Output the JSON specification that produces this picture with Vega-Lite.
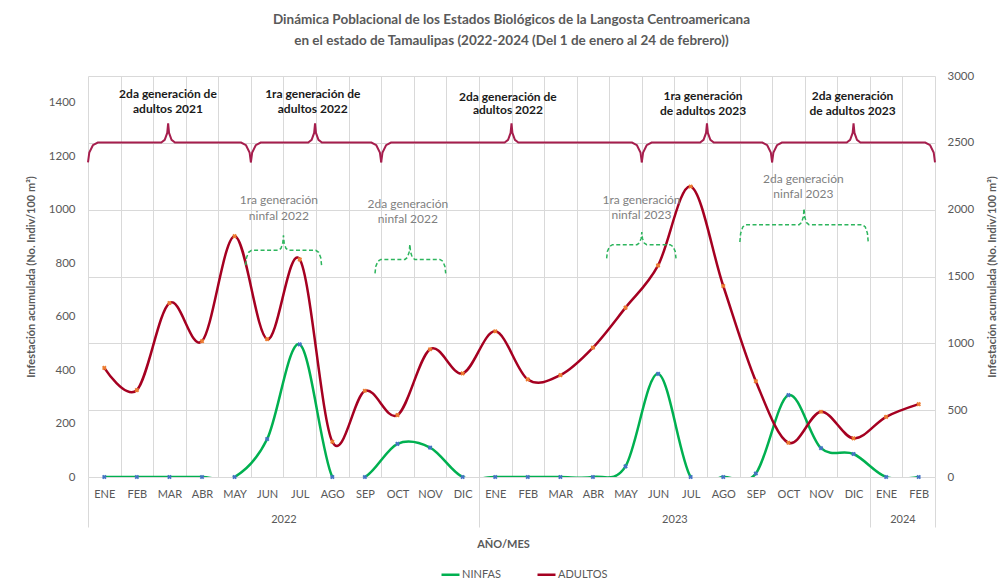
{
  "$schema": "https://vega.github.io/schema/vega-lite/v6.json",
  "width": 847,
  "height": 401,
  "autosize": {"type": "none"},
  "padding": {"left": 88, "top": 76, "right": 69, "bottom": 107},
  "background": "white",
  "title": {
    "text": ["Dinámica Poblacional de los Estados Biológicos de la Langosta Centroamericana", "en el estado de Tamaulipas (2022-2024 (Del 1 de enero al 24 de febrero))"],
    "anchor": "middle", "frame": "group", "offset": 23, "fontSize": 13.5, "font": "Lato", "fontWeight": "bold", "color": "#595959", "lineHeight": 21
  },
  "config": {"view": {"stroke": null}, "font": "Lato", "axis": {"labelFont": "Lato", "titleFont": "Lato"}, "legend": {"labelFont": "Lato"}},
  "datasets": {
    "main": [
      {"i": 0, "ninfas": 0, "adultos": 816},
      {"i": 1, "ninfas": 0, "adultos": 650},
      {"i": 2, "ninfas": 0, "adultos": 1302},
      {"i": 3, "ninfas": 0, "adultos": 1016},
      {"i": 4, "ninfas": 0, "adultos": 1802},
      {"i": 5, "ninfas": 142, "adultos": 1031},
      {"i": 6, "ninfas": 496, "adultos": 1628},
      {"i": 7, "ninfas": 0, "adultos": 264},
      {"i": 8, "ninfas": 0, "adultos": 645},
      {"i": 9, "ninfas": 124, "adultos": 463},
      {"i": 10, "ninfas": 110, "adultos": 956},
      {"i": 11, "ninfas": 0, "adultos": 775},
      {"i": 12, "ninfas": 0, "adultos": 1090},
      {"i": 13, "ninfas": 0, "adultos": 730},
      {"i": 14, "ninfas": 0, "adultos": 762},
      {"i": 15, "ninfas": 0, "adultos": 968},
      {"i": 16, "ninfas": 40, "adultos": 1267},
      {"i": 17, "ninfas": 386, "adultos": 1583},
      {"i": 18, "ninfas": 0, "adultos": 2173},
      {"i": 19, "ninfas": 0, "adultos": 1429},
      {"i": 20, "ninfas": 13, "adultos": 717},
      {"i": 21, "ninfas": 306, "adultos": 256},
      {"i": 22, "ninfas": 108, "adultos": 488},
      {"i": 23, "ninfas": 86, "adultos": 289},
      {"i": 24, "ninfas": 0, "adultos": 450},
      {"i": 25, "ninfas": 0, "adultos": 545}
    ],
    "bracesA": [
      {"b": "r1", "x": -0.5, "y": 1177}, {"b": "r1", "x": -0.46, "y": 1214}, {"b": "r1", "x": -0.35, "y": 1241}, {"b": "r1", "x": -0.2, "y": 1251},
      {"b": "r1", "x": 1.75, "y": 1251}, {"b": "r1", "x": 1.855, "y": 1261}, {"b": "r1", "x": 1.932, "y": 1287}, {"b": "r1", "x": 1.96, "y": 1323},
      {"b": "r1", "x": 1.988, "y": 1287}, {"b": "r1", "x": 2.065, "y": 1261}, {"b": "r1", "x": 2.17, "y": 1251}, {"b": "r1", "x": 4.2, "y": 1251},
      {"b": "r1", "x": 4.35, "y": 1241}, {"b": "r1", "x": 4.46, "y": 1214}, {"b": "r1", "x": 4.5, "y": 1177},
      {"b": "r2", "x": 4.5, "y": 1177}, {"b": "r2", "x": 4.54, "y": 1214}, {"b": "r2", "x": 4.65, "y": 1241}, {"b": "r2", "x": 4.8, "y": 1251},
      {"b": "r2", "x": 6.26, "y": 1251}, {"b": "r2", "x": 6.365, "y": 1261}, {"b": "r2", "x": 6.442, "y": 1287}, {"b": "r2", "x": 6.47, "y": 1323},
      {"b": "r2", "x": 6.498, "y": 1287}, {"b": "r2", "x": 6.575, "y": 1261}, {"b": "r2", "x": 6.68, "y": 1251}, {"b": "r2", "x": 8.2, "y": 1251},
      {"b": "r2", "x": 8.35, "y": 1241}, {"b": "r2", "x": 8.46, "y": 1214}, {"b": "r2", "x": 8.5, "y": 1177},
      {"b": "r3", "x": 8.5, "y": 1177}, {"b": "r3", "x": 8.54, "y": 1214}, {"b": "r3", "x": 8.65, "y": 1241}, {"b": "r3", "x": 8.8, "y": 1251},
      {"b": "r3", "x": 12.29, "y": 1251}, {"b": "r3", "x": 12.395, "y": 1261}, {"b": "r3", "x": 12.472, "y": 1287}, {"b": "r3", "x": 12.5, "y": 1323},
      {"b": "r3", "x": 12.528, "y": 1287}, {"b": "r3", "x": 12.605, "y": 1261}, {"b": "r3", "x": 12.71, "y": 1251}, {"b": "r3", "x": 16.2, "y": 1251},
      {"b": "r3", "x": 16.35, "y": 1241}, {"b": "r3", "x": 16.46, "y": 1214}, {"b": "r3", "x": 16.5, "y": 1177},
      {"b": "r4", "x": 16.5, "y": 1177}, {"b": "r4", "x": 16.54, "y": 1214}, {"b": "r4", "x": 16.65, "y": 1241}, {"b": "r4", "x": 16.8, "y": 1251},
      {"b": "r4", "x": 18.29, "y": 1251}, {"b": "r4", "x": 18.395, "y": 1261}, {"b": "r4", "x": 18.472, "y": 1287}, {"b": "r4", "x": 18.5, "y": 1323},
      {"b": "r4", "x": 18.528, "y": 1287}, {"b": "r4", "x": 18.605, "y": 1261}, {"b": "r4", "x": 18.71, "y": 1251}, {"b": "r4", "x": 20.2, "y": 1251},
      {"b": "r4", "x": 20.35, "y": 1241}, {"b": "r4", "x": 20.46, "y": 1214}, {"b": "r4", "x": 20.5, "y": 1177},
      {"b": "r5", "x": 20.5, "y": 1177}, {"b": "r5", "x": 20.54, "y": 1214}, {"b": "r5", "x": 20.65, "y": 1241}, {"b": "r5", "x": 20.8, "y": 1251},
      {"b": "r5", "x": 22.79, "y": 1251}, {"b": "r5", "x": 22.895, "y": 1261}, {"b": "r5", "x": 22.972, "y": 1287}, {"b": "r5", "x": 23.0, "y": 1323},
      {"b": "r5", "x": 23.028, "y": 1287}, {"b": "r5", "x": 23.105, "y": 1261}, {"b": "r5", "x": 23.21, "y": 1251}, {"b": "r5", "x": 25.2, "y": 1251},
      {"b": "r5", "x": 25.35, "y": 1241}, {"b": "r5", "x": 25.46, "y": 1214}, {"b": "r5", "x": 25.5, "y": 1177}
    ],
    "bracesN": [
      {"b": "g1", "x": 4.34, "y": 792}, {"b": "g1", "x": 4.365, "y": 820}, {"b": "g1", "x": 4.43, "y": 840.5}, {"b": "g1", "x": 4.52, "y": 848},
      {"b": "g1", "x": 5.35, "y": 848}, {"b": "g1", "x": 5.425, "y": 855.5}, {"b": "g1", "x": 5.48, "y": 876}, {"b": "g1", "x": 5.5, "y": 904},
      {"b": "g1", "x": 5.52, "y": 876}, {"b": "g1", "x": 5.575, "y": 855.5}, {"b": "g1", "x": 5.65, "y": 848}, {"b": "g1", "x": 6.49, "y": 848},
      {"b": "g1", "x": 6.58, "y": 840.5}, {"b": "g1", "x": 6.645, "y": 820}, {"b": "g1", "x": 6.67, "y": 792},
      {"b": "g2", "x": 8.31, "y": 762}, {"b": "g2", "x": 8.334, "y": 788}, {"b": "g2", "x": 8.4, "y": 807}, {"b": "g2", "x": 8.49, "y": 814},
      {"b": "g2", "x": 9.23, "y": 814}, {"b": "g2", "x": 9.305, "y": 821.5}, {"b": "g2", "x": 9.36, "y": 842}, {"b": "g2", "x": 9.38, "y": 870},
      {"b": "g2", "x": 9.4, "y": 842}, {"b": "g2", "x": 9.455, "y": 821.5}, {"b": "g2", "x": 9.53, "y": 814}, {"b": "g2", "x": 10.3, "y": 814},
      {"b": "g2", "x": 10.39, "y": 807}, {"b": "g2", "x": 10.456, "y": 788}, {"b": "g2", "x": 10.48, "y": 762},
      {"b": "g3", "x": 15.42, "y": 818}, {"b": "g3", "x": 15.444, "y": 843.5}, {"b": "g3", "x": 15.51, "y": 862}, {"b": "g3", "x": 15.6, "y": 869},
      {"b": "g3", "x": 16.35, "y": 869}, {"b": "g3", "x": 16.425, "y": 875.3}, {"b": "g3", "x": 16.48, "y": 892.5}, {"b": "g3", "x": 16.5, "y": 916},
      {"b": "g3", "x": 16.52, "y": 892.5}, {"b": "g3", "x": 16.575, "y": 875.3}, {"b": "g3", "x": 16.65, "y": 869}, {"b": "g3", "x": 17.37, "y": 869},
      {"b": "g3", "x": 17.46, "y": 862}, {"b": "g3", "x": 17.526, "y": 843.5}, {"b": "g3", "x": 17.55, "y": 818},
      {"b": "g4", "x": 19.51, "y": 879}, {"b": "g4", "x": 19.534, "y": 911.5}, {"b": "g4", "x": 19.6, "y": 935.3}, {"b": "g4", "x": 19.69, "y": 944},
      {"b": "g4", "x": 21.33, "y": 944}, {"b": "g4", "x": 21.405, "y": 952}, {"b": "g4", "x": 21.46, "y": 974}, {"b": "g4", "x": 21.48, "y": 1004},
      {"b": "g4", "x": 21.5, "y": 974}, {"b": "g4", "x": 21.555, "y": 952}, {"b": "g4", "x": 21.63, "y": 944}, {"b": "g4", "x": 23.27, "y": 944},
      {"b": "g4", "x": 23.36, "y": 935.3}, {"b": "g4", "x": 23.426, "y": 911.5}, {"b": "g4", "x": 23.45, "y": 879}
    ],
    "labelsA": [
      {"x": 1.955, "y": 1431, "t": "2da generación de"}, {"x": 1.955, "y": 1375, "t": "adultos 2021"},
      {"x": 6.4, "y": 1431, "t": "1ra generación de"}, {"x": 6.4, "y": 1375, "t": "adultos 2022"},
      {"x": 12.39, "y": 1423, "t": "2da generación de"}, {"x": 12.39, "y": 1371, "t": "adultos 2022"},
      {"x": 18.38, "y": 1425, "t": "1ra generación"}, {"x": 18.38, "y": 1368, "t": "de adultos 2023"},
      {"x": 22.97, "y": 1425, "t": "2da generación"}, {"x": 22.97, "y": 1368, "t": "de adultos 2023"}
    ],
    "labelsN": [
      {"x": 5.36, "y": 1035, "t": "1ra generación"}, {"x": 5.36, "y": 975, "t": "ninfal 2022"},
      {"x": 9.32, "y": 1022, "t": "2da generación"}, {"x": 9.32, "y": 966, "t": "ninfal 2022"},
      {"x": 16.49, "y": 1038, "t": "1ra generación"}, {"x": 16.49, "y": 981, "t": "ninfal 2023"},
      {"x": 21.46, "y": 1113, "t": "2da generación"}, {"x": 21.46, "y": 1057, "t": "ninfal 2023"}
    ]
  },
  "resolve": {
    "scale": {"x": "shared", "y": "independent", "color": "shared"},
    "axis": {"x": "independent", "y": "independent"}
  },
  "layer": [
    {
      "data": {"name": "main"},
      "mark": {"type": "line", "interpolate": "cardinal", "tension": 0, "clip": true, "strokeWidth": 2.5},
      "encoding": {
        "x": {"field": "i", "type": "quantitative", "scale": {"domain": [-0.5, 25.5], "nice": false, "zero": false},
          "axis": {"orient": "bottom", "values": [-0.5, 0.5, 1.5, 2.5, 3.5, 4.5, 5.5, 6.5, 7.5, 8.5, 9.5, 10.5, 11.5, 12.5, 13.5, 14.5, 15.5, 16.5, 17.5, 18.5, 19.5, 20.5, 21.5, 22.5, 23.5, 24.5, 25.5],
            "grid": true, "gridColor": "#D9D9D9", "gridWidth": 1, "ticks": false, "labels": false, "domain": false, "title": null}},
        "y": {"field": "ninfas", "type": "quantitative", "scale": {"domain": [0, 1500], "nice": false},
          "axis": {"orient": "left", "values": [0, 200, 400, 600, 800, 1000, 1200, 1400], "format": "d", "grid": false, "ticks": false, "domain": false,
            "labelPadding": 13, "labelColor": "#595959", "labelFontSize": 11.5,
            "title": "Infestación acumulada (No. Indiv/100 m²)", "titleColor": "#595959", "titleFontSize": 11, "titleFontWeight": "bold", "titlePadding": 12}},
        "color": {"datum": "NINFAS", "type": "nominal",
          "scale": {"domain": ["NINFAS", "ADULTOS"], "range": ["#00B050", "#A50021"]},
          "legend": {"title": null, "orient": "none", "legendX": 352, "legendY": 488, "direction": "horizontal",
            "symbolType": "stroke", "symbolStrokeWidth": 2.5, "symbolSize": 324, "labelFontSize": 11, "labelColor": "#595959",
            "labelOffset": 1, "columnPadding": 31}}
      }
    },
    {
      "data": {"name": "main"},
      "mark": {"type": "line", "interpolate": "cardinal", "tension": 0, "clip": true, "strokeWidth": 2.5},
      "encoding": {
        "x": {"field": "i", "type": "quantitative",
          "axis": {"orient": "bottom", "values": [0, 1, 2, 3, 4, 5, 6, 7, 8, 9, 10, 11, 12, 13, 14, 15, 16, 17, 18, 19, 20, 21, 22, 23, 24, 25],
            "labelExpr": "['ENE','FEB','MAR','ABR','MAY','JUN','JUL','AGO','SEP','OCT','NOV','DIC'][datum.value % 12]",
            "ticks": false, "domain": false, "grid": false, "labelPadding": 11, "labelColor": "#595959", "labelFontSize": 11,
            "labelFlush": false, "labelOverlap": false, "labelBound": false,
            "title": "AÑO/MES", "titleX": 415, "titleY": 67, "titleBaseline": "middle", "titleColor": "#595959", "titleFontSize": 11, "titleFontWeight": "bold"}},
        "y": {"field": "adultos", "type": "quantitative", "scale": {"domain": [0, 3000], "nice": false},
          "axis": {"orient": "right", "values": [0, 500, 1000, 1500, 2000, 2500, 3000], "format": "d", "grid": true, "gridColor": "#D9D9D9", "ticks": false, "domain": false,
            "labelPadding": 12, "labelColor": "#595959", "labelFontSize": 11.5,
            "title": "Infestación acumulada (No. Indiv/100 m²)", "titleAngle": 270, "titleColor": "#595959", "titleFontSize": 11, "titleFontWeight": "bold", "titlePadding": 24}},
        "color": {"datum": "ADULTOS", "type": "nominal"}
      }
    },
    {
      "data": {"name": "main"},
      "mark": {"type": "point", "shape": "cross", "angle": 45, "filled": true, "size": 22, "color": "#4472C4", "opacity": 1},
      "encoding": {
        "x": {"field": "i", "type": "quantitative",
          "axis": {"orient": "bottom", "values": [5.5, 17.5, 24.5],
            "labelExpr": "datum.value < 12 ? '2022' : (datum.value < 24 ? '2023' : '2024')",
            "ticks": false, "domain": false, "grid": false, "labelPadding": 36, "labelColor": "#595959", "labelFontSize": 11,
            "labelFlush": false, "labelOverlap": false, "title": null}},
        "y": {"field": "ninfas", "type": "quantitative", "scale": {"domain": [0, 1500], "nice": false}, "axis": null}
      }
    },
    {
      "data": {"name": "main"},
      "mark": {"type": "point", "shape": "cross", "angle": 45, "filled": true, "size": 22, "color": "#ED7D31", "opacity": 1},
      "encoding": {
        "x": {"field": "i", "type": "quantitative",
          "axis": {"orient": "bottom", "values": [-0.5, 11.5, 23.5, 25.5], "ticks": true, "tickSize": 50, "tickColor": "#D9D9D9",
            "labels": false, "domain": false, "grid": false, "title": null}},
        "y": {"field": "adultos", "type": "quantitative", "scale": {"domain": [0, 3000], "nice": false}, "axis": null}
      }
    },
    {
      "data": {"name": "bracesA"},
      "mark": {"type": "line", "color": "#A61E4D", "strokeWidth": 2},
      "encoding": {
        "x": {"field": "x", "type": "quantitative", "axis": null},
        "y": {"field": "y", "type": "quantitative", "scale": {"domain": [0, 1500], "nice": false}, "axis": null},
        "detail": {"field": "b"}
      }
    },
    {
      "data": {"name": "bracesN"},
      "mark": {"type": "line", "color": "#2DB55D", "strokeWidth": 1.5, "strokeDash": [4, 2.5]},
      "encoding": {
        "x": {"field": "x", "type": "quantitative", "axis": null},
        "y": {"field": "y", "type": "quantitative", "scale": {"domain": [0, 1500], "nice": false}, "axis": null},
        "detail": {"field": "b"}
      }
    },
    {
      "data": {"name": "labelsA"},
      "mark": {"type": "text", "font": "Lato", "fontSize": 12, "fontWeight": "bold", "color": "#1A1A1A", "align": "center", "baseline": "middle"},
      "encoding": {
        "x": {"field": "x", "type": "quantitative", "axis": null},
        "y": {"field": "y", "type": "quantitative", "scale": {"domain": [0, 1500], "nice": false}, "axis": null},
        "text": {"field": "t"}
      }
    },
    {
      "data": {"name": "labelsN"},
      "mark": {"type": "text", "font": "Lato", "fontSize": 12, "color": "#7F7F7F", "align": "center", "baseline": "middle"},
      "encoding": {
        "x": {"field": "x", "type": "quantitative", "axis": null},
        "y": {"field": "y", "type": "quantitative", "scale": {"domain": [0, 1500], "nice": false}, "axis": null},
        "text": {"field": "t"}
      }
    }
  ]
}
